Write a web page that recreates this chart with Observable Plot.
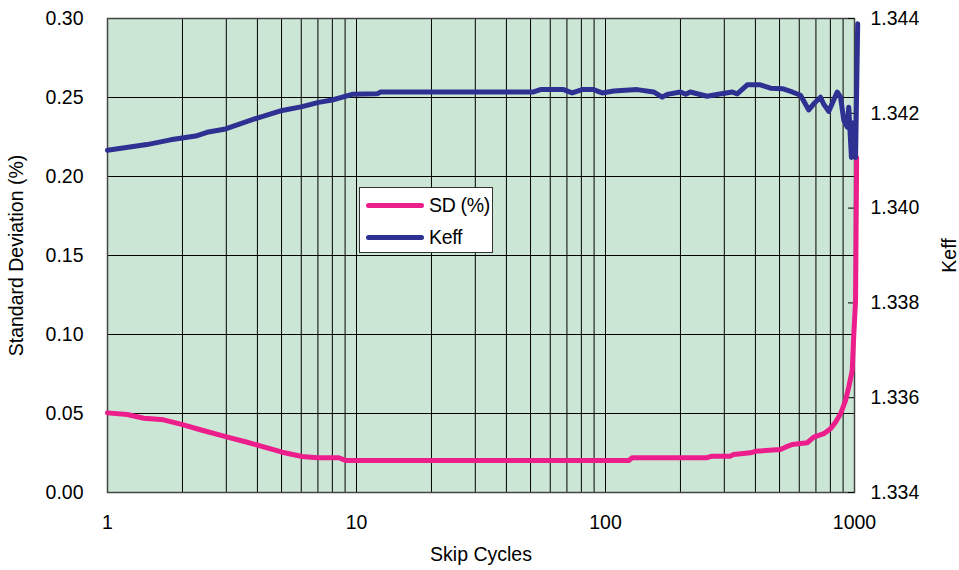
<!DOCTYPE html>
<html>
<head>
<meta charset="utf-8">
<script src="https://cdn.jsdelivr.net/npm/d3@7"></script>
<script src="https://cdn.jsdelivr.net/npm/@observablehq/plot@0.6"></script>
<style>
  body { margin: 0; background: #fff; }
  #chart { position: relative; width: 959px; height: 570px; font-family: "Liberation Sans", Arial, sans-serif; }
  #chart svg { display: block; }
  .legend { position: absolute; left: 359px; top: 187px; width: 132px; height: 64px;
            border: 1px solid #333; background: #fff; font-size: 19.5px; color: #000; letter-spacing: -0.3px; }
  .legend .row { position: absolute; left: 0; height: 20px; display: flex; align-items: center; }
  .legend .swatch { width: 58px; height: 5px; border-radius: 3px; margin-left: 6px; margin-right: 5px; }
</style>
</head>
<body>
<div id="chart"></div>
<script>
// Skip cycles vs. standard deviation (%) of Keff, and Keff itself
const skipSD = [1, 1.2, 1.4, 1.68, 2.0, 2.36, 2.98, 3.64, 5.03, 6.05, 6.95, 8.49, 9.03, 124, 128, 256, 268, 318, 327, 382, 400, 504, 528, 562, 646, 686, 753, 801, 839, 879, 920, 948, 979, 994, 1010, 1020];
const sdValues = [0.0504, 0.0494, 0.0470, 0.0460, 0.0430, 0.0397, 0.0354, 0.0318, 0.0255, 0.0228, 0.0220, 0.0220, 0.0203, 0.0203, 0.0220, 0.0220, 0.0230, 0.0230, 0.0241, 0.0251, 0.0261, 0.0272, 0.0287, 0.0304, 0.0315, 0.0350, 0.0372, 0.0403, 0.0445, 0.0498, 0.0582, 0.0666, 0.0772, 0.1006, 0.1215, 0.212];

const skipKeff = [1, 1.44, 1.79, 2.26, 2.51, 2.98, 3.99, 5.03, 6.05, 7.04, 7.99, 9.61, 12.1, 12.5, 51.4, 54.8, 67.8, 73.5, 80.6, 89.5, 97, 108, 134, 156, 169, 177, 200, 210, 219, 256, 284, 323, 338, 371, 419, 460, 513, 562, 607, 655, 686, 730, 751, 788, 852, 879, 906, 935, 948, 972, 990, 1010, 1030];
const keffValues = [1.34122, 1.34134, 1.34144, 1.34152, 1.34160, 1.34167, 1.34190, 1.34206, 1.34214, 1.34223, 1.34228, 1.34240, 1.34241, 1.34245, 1.34245, 1.34250, 1.34250, 1.34243, 1.34250, 1.34250, 1.34243, 1.34247, 1.34250, 1.34245, 1.34234, 1.34240, 1.34245, 1.34240, 1.34245, 1.34236, 1.34240, 1.34245, 1.34241, 1.34260, 1.34260, 1.34253, 1.34252, 1.34245, 1.34238, 1.34207, 1.34220, 1.34234, 1.34220, 1.34204, 1.34245, 1.34234, 1.34185, 1.34171, 1.34213, 1.34107, 1.34180, 1.34107, 1.34389];

// Axis ticks and grid positions
const xTicks = [1, 10, 100, 1000];
const xGrid = [2, 3, 4, 5, 6, 7, 8, 9, 10, 20, 30, 40, 50, 60, 70, 80, 90, 100, 200, 300, 400, 500, 600, 700, 800, 900];
const sdTicks = [0, 0.05, 0.10, 0.15, 0.20, 0.25, 0.30];
const sdGrid = [0.05, 0.10, 0.15, 0.20, 0.25];
const keffTicks = [1.334, 1.336, 1.338, 1.340, 1.342, 1.344];

const SD_MAX = 0.30, K0 = 1.334, K1 = 1.344;
const PINK = "#EC1E8C", NAVY = "#2E3192";

// Keff lives on the secondary (right) axis: map it onto the SD scale
const toY = k => (k - K0) / (K1 - K0) * SD_MAX;
const fromY = y => K0 + y / SD_MAX * (K1 - K0);

const sdRows = skipSD.map((s, i) => ({skip: s, sd: sdValues[i]}));
const keffRows = skipKeff.map((s, i) => ({skip: s, keff: keffValues[i]}));

const chart = Plot.plot({
  width: 959,
  height: 570,
  marginLeft: 107,
  marginRight: 105,
  marginTop: 18,
  marginBottom: 78,
  style: {fontFamily: "'Liberation Sans', Arial, sans-serif", fontSize: "19.5px", color: "#000", background: "#fff"},
  x: {type: "log", domain: [1, 1000]},
  y: {domain: [0, SD_MAX]},
  marks: [
    Plot.frame({fill: "#CCE6D6", stroke: null}),
    Plot.ruleX(xGrid, {stroke: "#000", strokeWidth: 1}),
    Plot.ruleY(sdGrid, {stroke: "#000", strokeWidth: 1}),
    Plot.frame({stroke: "#444", strokeWidth: 1.5}),
    Plot.tickY(keffTicks.map(toY), {stroke: "#000", insetLeft: 741}),
    Plot.line(sdRows, {x: "skip", y: "sd", stroke: PINK, strokeWidth: 5, strokeLinejoin: "round"}),
    Plot.line(keffRows, {x: "skip", y: d => toY(d.keff), stroke: NAVY, strokeWidth: 5, strokeLinejoin: "round"}),
    Plot.axisX({ticks: xTicks, tickFormat: d => String(d), tickSize: 0, tickPadding: 23,
                label: "Skip Cycles", labelAnchor: "center", labelOffset: 68, labelArrow: "none"}),
    Plot.axisY({ticks: sdTicks, tickFormat: d => d.toFixed(2), tickSize: 0, tickPadding: 24,
                label: "Standard Deviation (%)", labelAnchor: "center", labelOffset: 98, labelArrow: "none"}),
    Plot.axisY({anchor: "right", ticks: keffTicks.map(toY), tickFormat: d => fromY(d).toFixed(3),
                tickSize: 0, tickPadding: 16,
                label: "Keff", labelAnchor: "center", labelOffset: 101, labelArrow: "none"})
  ]
});

const root = document.getElementById("chart");
root.appendChild(chart);

// Legend box drawn over the plot area
const legend = document.createElement("div");
legend.className = "legend";
[["SD (%)", PINK, 7], ["Keff", NAVY, 39]].forEach(([name, color, top]) => {
  const row = document.createElement("div");
  row.className = "row";
  row.style.top = top + "px";
  const sw = document.createElement("div");
  sw.className = "swatch";
  sw.style.background = color;
  const label = document.createElement("span");
  label.textContent = name;
  row.appendChild(sw);
  row.appendChild(label);
  legend.appendChild(row);
});
root.appendChild(legend);
</script>
</body>
</html>
